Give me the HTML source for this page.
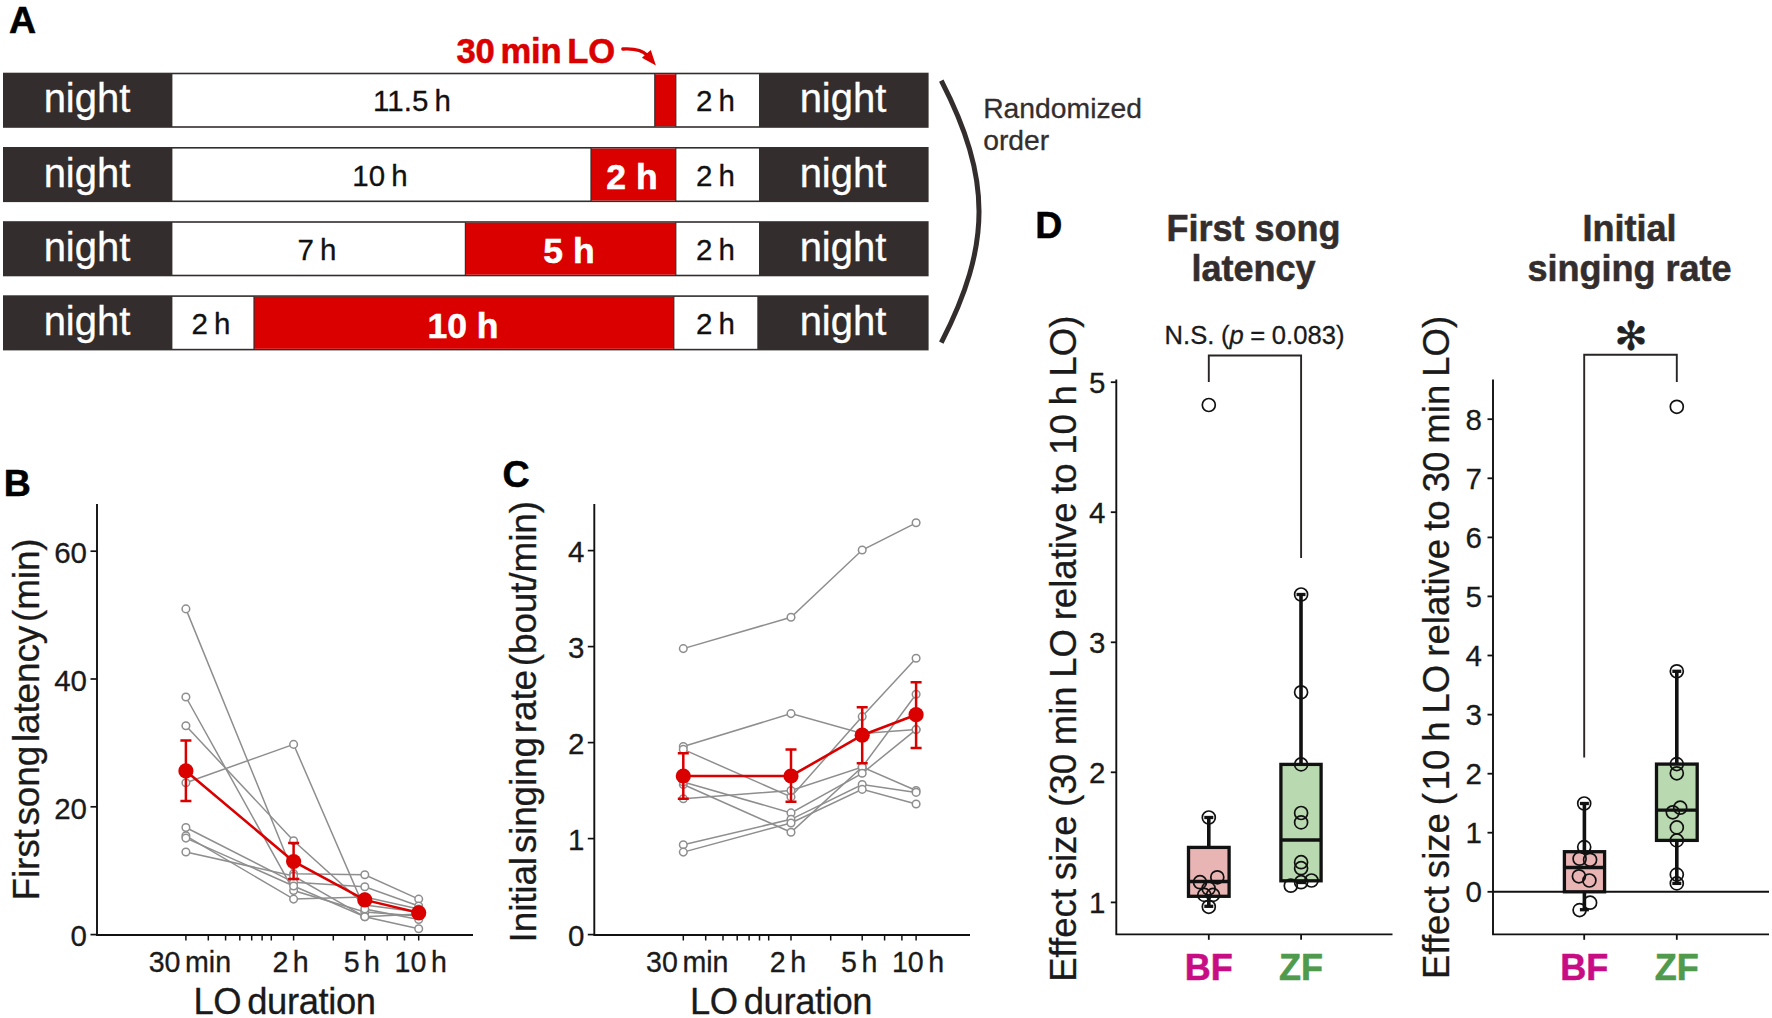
<!DOCTYPE html>
<html><head><meta charset="utf-8"><title>Figure</title>
<style>
html,body{margin:0;padding:0;background:#fff;}
body{width:1772px;height:1018px;overflow:hidden;}
svg{display:block;font-family:"Liberation Sans",sans-serif;}
.b{font-weight:bold;}
</style></head><body>
<svg width="1772" height="1018" viewBox="0 0 1772 1018">
<rect x="0" y="0" width="1772" height="1018" fill="#ffffff"/>

<text x="9" y="32.8" class="b" font-size="37.5" fill="#000" stroke="#000" stroke-width="0.55">A</text>
<rect x="3" y="72.7" width="925.6" height="55.1" fill="#332e2d"/>
<rect x="172.4" y="74.3" width="586.6" height="51.9" fill="#fff"/>
<rect x="654.8" y="74.3" width="21.0" height="51.9" fill="#da0000"/>
<line x1="654.8" y1="73.7" x2="654.8" y2="126.80000000000001" stroke="#332e2d" stroke-width="1.2"/>
<line x1="675.8" y1="73.7" x2="675.8" y2="126.80000000000001" stroke="#332e2d" stroke-width="1.2"/>
<text x="87" y="112.4" font-size="40" fill="#fff" text-anchor="middle" stroke="#fff" stroke-width="0.3">night</text>
<text x="843" y="112.4" font-size="40" fill="#fff" text-anchor="middle" stroke="#fff" stroke-width="0.3">night</text>
<text x="412" y="111.30000000000001" font-size="29.5" fill="#111" text-anchor="middle" style="word-spacing:-0.07em" stroke="#111" stroke-width="0.3">11.5 h</text>
<text x="715.5" y="111.30000000000001" font-size="29.5" fill="#111" text-anchor="middle" style="word-spacing:-0.07em" stroke="#111" stroke-width="0.3">2 h</text>
<rect x="3" y="147" width="925.6" height="55.1" fill="#332e2d"/>
<rect x="172.4" y="148.6" width="586.6" height="51.9" fill="#fff"/>
<rect x="591" y="148.6" width="84.79999999999995" height="51.9" fill="#da0000"/>
<line x1="591" y1="148" x2="591" y2="201.1" stroke="#332e2d" stroke-width="1.2"/>
<line x1="675.8" y1="148" x2="675.8" y2="201.1" stroke="#332e2d" stroke-width="1.2"/>
<text x="87" y="186.7" font-size="40" fill="#fff" text-anchor="middle" stroke="#fff" stroke-width="0.3">night</text>
<text x="843" y="186.7" font-size="40" fill="#fff" text-anchor="middle" stroke="#fff" stroke-width="0.3">night</text>
<text x="380" y="185.6" font-size="29.5" fill="#111" text-anchor="middle" style="word-spacing:-0.07em" stroke="#111" stroke-width="0.3">10 h</text>
<text x="715.5" y="185.6" font-size="29.5" fill="#111" text-anchor="middle" style="word-spacing:-0.07em" stroke="#111" stroke-width="0.3">2 h</text>
<text x="632" y="189.2" font-size="35.5" class="b" fill="#fff" text-anchor="middle" stroke="#fff" stroke-width="0.55">2 h</text>
<rect x="3" y="221.2" width="925.6" height="55.1" fill="#332e2d"/>
<rect x="172.4" y="222.79999999999998" width="586.6" height="51.9" fill="#fff"/>
<rect x="465.4" y="222.79999999999998" width="210.39999999999998" height="51.9" fill="#da0000"/>
<line x1="465.4" y1="222.2" x2="465.4" y2="275.3" stroke="#332e2d" stroke-width="1.2"/>
<line x1="675.8" y1="222.2" x2="675.8" y2="275.3" stroke="#332e2d" stroke-width="1.2"/>
<text x="87" y="260.9" font-size="40" fill="#fff" text-anchor="middle" stroke="#fff" stroke-width="0.3">night</text>
<text x="843" y="260.9" font-size="40" fill="#fff" text-anchor="middle" stroke="#fff" stroke-width="0.3">night</text>
<text x="317" y="259.8" font-size="29.5" fill="#111" text-anchor="middle" style="word-spacing:-0.07em" stroke="#111" stroke-width="0.3">7 h</text>
<text x="715.5" y="259.8" font-size="29.5" fill="#111" text-anchor="middle" style="word-spacing:-0.07em" stroke="#111" stroke-width="0.3">2 h</text>
<text x="569" y="263.4" font-size="35.5" class="b" fill="#fff" text-anchor="middle" stroke="#fff" stroke-width="0.55">5 h</text>
<rect x="3" y="295.3" width="925.6" height="55.1" fill="#332e2d"/>
<rect x="172.4" y="296.90000000000003" width="584.9" height="51.9" fill="#fff"/>
<rect x="254" y="296.90000000000003" width="419.79999999999995" height="51.9" fill="#da0000"/>
<line x1="254" y1="296.3" x2="254" y2="349.40000000000003" stroke="#332e2d" stroke-width="1.2"/>
<line x1="673.8" y1="296.3" x2="673.8" y2="349.40000000000003" stroke="#332e2d" stroke-width="1.2"/>
<text x="87" y="335.0" font-size="40" fill="#fff" text-anchor="middle" stroke="#fff" stroke-width="0.3">night</text>
<text x="843" y="335.0" font-size="40" fill="#fff" text-anchor="middle" stroke="#fff" stroke-width="0.3">night</text>
<text x="211" y="333.90000000000003" font-size="29.5" fill="#111" text-anchor="middle" style="word-spacing:-0.07em" stroke="#111" stroke-width="0.3">2 h</text>
<text x="715.5" y="333.90000000000003" font-size="29.5" fill="#111" text-anchor="middle" style="word-spacing:-0.07em" stroke="#111" stroke-width="0.3">2 h</text>
<text x="463" y="337.5" font-size="35.5" class="b" fill="#fff" text-anchor="middle" stroke="#fff" stroke-width="0.55">10 h</text>
<text x="456.5" y="62.8" font-size="34.6" class="b" fill="#da0000" style="word-spacing:-0.1em;letter-spacing:-0.2px" stroke="#da0000" stroke-width="0.55">30 min LO</text>
<path d="M622.8 49 C633 48.4 642 49.6 647.5 55.5" fill="none" stroke="#da0000" stroke-width="3.3" stroke-linecap="round"/>
<path d="M650.8 50.1 L641.9 57.7 L655.9 65.6 Z" fill="#da0000"/>
<path d="M941.3 80.6 C991.6 178.6 991.6 244.6 941.3 342.6" fill="none" stroke="#332e2d" stroke-width="5"/>
<text x="983.2" y="117.5" font-size="28.3" fill="#332e2d" stroke="#332e2d" stroke-width="0.3">Randomized</text>
<text x="983.2" y="149.5" font-size="28.3" fill="#332e2d" stroke="#332e2d" stroke-width="0.3">order</text>
<text x="3.8" y="496.2" class="b" font-size="37.5" fill="#000" stroke="#000" stroke-width="0.55">B</text>
<path d="M97 504 V935 H473" fill="none" stroke="#111" stroke-width="1.9"/>
<line x1="90.5" y1="934.6" x2="97" y2="934.6" stroke="#111" stroke-width="1.7"/>
<text x="87" y="946.4" font-size="29.5" fill="#1a1a1a" text-anchor="end" stroke="#1a1a1a" stroke-width="0.3">0</text>
<line x1="90.5" y1="806.8000000000001" x2="97" y2="806.8000000000001" stroke="#111" stroke-width="1.7"/>
<text x="87" y="818.6" font-size="29.5" fill="#1a1a1a" text-anchor="end" stroke="#1a1a1a" stroke-width="0.3">20</text>
<line x1="90.5" y1="679.0" x2="97" y2="679.0" stroke="#111" stroke-width="1.7"/>
<text x="87" y="690.8" font-size="29.5" fill="#1a1a1a" text-anchor="end" stroke="#1a1a1a" stroke-width="0.3">40</text>
<line x1="90.5" y1="551.2" x2="97" y2="551.2" stroke="#111" stroke-width="1.7"/>
<text x="87" y="563.0" font-size="29.5" fill="#1a1a1a" text-anchor="end" stroke="#1a1a1a" stroke-width="0.3">60</text>
<line x1="185.9" y1="935" x2="185.9" y2="940.5" stroke="#111" stroke-width="1.5"/>
<line x1="208.3" y1="935" x2="208.3" y2="940.5" stroke="#111" stroke-width="1.5"/>
<line x1="225.6" y1="935" x2="225.6" y2="940.5" stroke="#111" stroke-width="1.5"/>
<line x1="239.8" y1="935" x2="239.8" y2="940.5" stroke="#111" stroke-width="1.5"/>
<line x1="251.7" y1="935" x2="251.7" y2="940.5" stroke="#111" stroke-width="1.5"/>
<line x1="262.1" y1="935" x2="262.1" y2="940.5" stroke="#111" stroke-width="1.5"/>
<line x1="271.3" y1="935" x2="271.3" y2="940.5" stroke="#111" stroke-width="1.5"/>
<line x1="293.6" y1="935" x2="293.6" y2="940.5" stroke="#111" stroke-width="1.5"/>
<line x1="333.3" y1="935" x2="333.3" y2="940.5" stroke="#111" stroke-width="1.5"/>
<line x1="364.8" y1="935" x2="364.8" y2="940.5" stroke="#111" stroke-width="1.5"/>
<line x1="387.2" y1="935" x2="387.2" y2="940.5" stroke="#111" stroke-width="1.5"/>
<line x1="404.5" y1="935" x2="404.5" y2="940.5" stroke="#111" stroke-width="1.5"/>
<line x1="418.7" y1="935" x2="418.7" y2="940.5" stroke="#111" stroke-width="1.5"/>
<text x="189.9" y="972.3" font-size="28.6" fill="#1a1a1a" text-anchor="middle" style="word-spacing:-0.12em" stroke="#1a1a1a" stroke-width="0.3">30 min</text>
<text x="290.6" y="972.3" font-size="28.6" fill="#1a1a1a" text-anchor="middle" style="word-spacing:-0.12em" stroke="#1a1a1a" stroke-width="0.3">2 h</text>
<text x="361.8" y="972.3" font-size="28.6" fill="#1a1a1a" text-anchor="middle" style="word-spacing:-0.12em" stroke="#1a1a1a" stroke-width="0.3">5 h</text>
<text x="420.7" y="972.3" font-size="28.6" fill="#1a1a1a" text-anchor="middle" style="word-spacing:-0.12em" stroke="#1a1a1a" stroke-width="0.3">10 h</text>
<text x="284.5" y="1014.4" font-size="36.4" fill="#1a1a1a" text-anchor="middle" style="word-spacing:-0.1em;letter-spacing:-0.4px" stroke="#1a1a1a" stroke-width="0.3">LO duration</text>
<text transform="translate(39,719.5) rotate(-90)" font-size="37" fill="#1a1a1a" text-anchor="middle" style="word-spacing:-0.17em;letter-spacing:-0.15px" stroke="#1a1a1a" stroke-width="0.3">First song latency (min)</text>
<polyline points="185.9,608.9 293.6,873.7 364.8,874.7 418.7,899.1" fill="none" stroke="#8e8e8e" stroke-width="1.5"/>
<polyline points="185.9,697.0 293.6,890.5 364.8,912.0 418.7,916.0" fill="none" stroke="#8e8e8e" stroke-width="1.5"/>
<polyline points="185.9,725.8 293.6,840.8 364.8,905.0 418.7,912.0" fill="none" stroke="#8e8e8e" stroke-width="1.5"/>
<polyline points="185.9,782.7 293.6,744.4 364.8,909.0 418.7,919.5" fill="none" stroke="#8e8e8e" stroke-width="1.5"/>
<polyline points="185.9,827.5 293.6,882.3 364.8,886.7 418.7,906.0" fill="none" stroke="#8e8e8e" stroke-width="1.5"/>
<polyline points="185.9,835.8 293.6,899.1 364.8,897.0 418.7,909.0" fill="none" stroke="#8e8e8e" stroke-width="1.5"/>
<polyline points="185.9,838.1 293.6,886.0 364.8,916.8 418.7,914.0" fill="none" stroke="#8e8e8e" stroke-width="1.5"/>
<polyline points="185.9,852.0 293.6,876.0 364.8,916.8 418.7,928.7" fill="none" stroke="#8e8e8e" stroke-width="1.5"/>
<circle cx="185.9" cy="608.9" r="3.8" fill="#fff" stroke="#8e8e8e" stroke-width="1.5"/>
<circle cx="293.6" cy="873.7" r="3.8" fill="#fff" stroke="#8e8e8e" stroke-width="1.5"/>
<circle cx="364.8" cy="874.7" r="3.8" fill="#fff" stroke="#8e8e8e" stroke-width="1.5"/>
<circle cx="418.7" cy="899.1" r="3.8" fill="#fff" stroke="#8e8e8e" stroke-width="1.5"/>
<circle cx="185.9" cy="697.0" r="3.8" fill="#fff" stroke="#8e8e8e" stroke-width="1.5"/>
<circle cx="293.6" cy="890.5" r="3.8" fill="#fff" stroke="#8e8e8e" stroke-width="1.5"/>
<circle cx="364.8" cy="912.0" r="3.8" fill="#fff" stroke="#8e8e8e" stroke-width="1.5"/>
<circle cx="418.7" cy="916.0" r="3.8" fill="#fff" stroke="#8e8e8e" stroke-width="1.5"/>
<circle cx="185.9" cy="725.8" r="3.8" fill="#fff" stroke="#8e8e8e" stroke-width="1.5"/>
<circle cx="293.6" cy="840.8" r="3.8" fill="#fff" stroke="#8e8e8e" stroke-width="1.5"/>
<circle cx="364.8" cy="905.0" r="3.8" fill="#fff" stroke="#8e8e8e" stroke-width="1.5"/>
<circle cx="418.7" cy="912.0" r="3.8" fill="#fff" stroke="#8e8e8e" stroke-width="1.5"/>
<circle cx="185.9" cy="782.7" r="3.8" fill="#fff" stroke="#8e8e8e" stroke-width="1.5"/>
<circle cx="293.6" cy="744.4" r="3.8" fill="#fff" stroke="#8e8e8e" stroke-width="1.5"/>
<circle cx="364.8" cy="909.0" r="3.8" fill="#fff" stroke="#8e8e8e" stroke-width="1.5"/>
<circle cx="418.7" cy="919.5" r="3.8" fill="#fff" stroke="#8e8e8e" stroke-width="1.5"/>
<circle cx="185.9" cy="827.5" r="3.8" fill="#fff" stroke="#8e8e8e" stroke-width="1.5"/>
<circle cx="293.6" cy="882.3" r="3.8" fill="#fff" stroke="#8e8e8e" stroke-width="1.5"/>
<circle cx="364.8" cy="886.7" r="3.8" fill="#fff" stroke="#8e8e8e" stroke-width="1.5"/>
<circle cx="418.7" cy="906.0" r="3.8" fill="#fff" stroke="#8e8e8e" stroke-width="1.5"/>
<circle cx="185.9" cy="835.8" r="3.8" fill="#fff" stroke="#8e8e8e" stroke-width="1.5"/>
<circle cx="293.6" cy="899.1" r="3.8" fill="#fff" stroke="#8e8e8e" stroke-width="1.5"/>
<circle cx="364.8" cy="897.0" r="3.8" fill="#fff" stroke="#8e8e8e" stroke-width="1.5"/>
<circle cx="418.7" cy="909.0" r="3.8" fill="#fff" stroke="#8e8e8e" stroke-width="1.5"/>
<circle cx="185.9" cy="838.1" r="3.8" fill="#fff" stroke="#8e8e8e" stroke-width="1.5"/>
<circle cx="293.6" cy="886.0" r="3.8" fill="#fff" stroke="#8e8e8e" stroke-width="1.5"/>
<circle cx="364.8" cy="916.8" r="3.8" fill="#fff" stroke="#8e8e8e" stroke-width="1.5"/>
<circle cx="418.7" cy="914.0" r="3.8" fill="#fff" stroke="#8e8e8e" stroke-width="1.5"/>
<circle cx="185.9" cy="852.0" r="3.8" fill="#fff" stroke="#8e8e8e" stroke-width="1.5"/>
<circle cx="293.6" cy="876.0" r="3.8" fill="#fff" stroke="#8e8e8e" stroke-width="1.5"/>
<circle cx="364.8" cy="916.8" r="3.8" fill="#fff" stroke="#8e8e8e" stroke-width="1.5"/>
<circle cx="418.7" cy="928.7" r="3.8" fill="#fff" stroke="#8e8e8e" stroke-width="1.5"/>
<polyline points="185.9,770.9 293.6,861.5 364.8,899.9 418.7,912.8" fill="none" stroke="#da0000" stroke-width="2.6"/>
<path d="M180.4 740.6 H191.4 M185.9 740.6 V801 M180.4 801 H191.4" fill="none" stroke="#da0000" stroke-width="2.5"/>
<circle cx="185.9" cy="770.9" r="7.6" fill="#da0000"/>
<path d="M288.1 842.9 H299.1 M293.6 842.9 V879 M288.1 879 H299.1" fill="none" stroke="#da0000" stroke-width="2.5"/>
<circle cx="293.6" cy="861.5" r="7.6" fill="#da0000"/>
<circle cx="364.8" cy="899.9" r="7.6" fill="#da0000"/>
<circle cx="418.7" cy="912.8" r="7.6" fill="#da0000"/>
<text x="502.5" y="487.2" class="b" font-size="37.5" fill="#000" stroke="#000" stroke-width="0.55">C</text>
<path d="M594.3 504 V935 H970" fill="none" stroke="#111" stroke-width="1.9"/>
<line x1="587.8" y1="934.6" x2="594.3" y2="934.6" stroke="#111" stroke-width="1.7"/>
<text x="584.3" y="946.4" font-size="29.5" fill="#1a1a1a" text-anchor="end" stroke="#1a1a1a" stroke-width="0.3">0</text>
<line x1="587.8" y1="838.6" x2="594.3" y2="838.6" stroke="#111" stroke-width="1.7"/>
<text x="584.3" y="850.4" font-size="29.5" fill="#1a1a1a" text-anchor="end" stroke="#1a1a1a" stroke-width="0.3">1</text>
<line x1="587.8" y1="742.6" x2="594.3" y2="742.6" stroke="#111" stroke-width="1.7"/>
<text x="584.3" y="754.4" font-size="29.5" fill="#1a1a1a" text-anchor="end" stroke="#1a1a1a" stroke-width="0.3">2</text>
<line x1="587.8" y1="646.6" x2="594.3" y2="646.6" stroke="#111" stroke-width="1.7"/>
<text x="584.3" y="658.4" font-size="29.5" fill="#1a1a1a" text-anchor="end" stroke="#1a1a1a" stroke-width="0.3">3</text>
<line x1="587.8" y1="550.6" x2="594.3" y2="550.6" stroke="#111" stroke-width="1.7"/>
<text x="584.3" y="562.4" font-size="29.5" fill="#1a1a1a" text-anchor="end" stroke="#1a1a1a" stroke-width="0.3">4</text>
<line x1="683.3" y1="935" x2="683.3" y2="940.5" stroke="#111" stroke-width="1.5"/>
<line x1="705.7" y1="935" x2="705.7" y2="940.5" stroke="#111" stroke-width="1.5"/>
<line x1="723.0" y1="935" x2="723.0" y2="940.5" stroke="#111" stroke-width="1.5"/>
<line x1="737.2" y1="935" x2="737.2" y2="940.5" stroke="#111" stroke-width="1.5"/>
<line x1="749.1" y1="935" x2="749.1" y2="940.5" stroke="#111" stroke-width="1.5"/>
<line x1="759.5" y1="935" x2="759.5" y2="940.5" stroke="#111" stroke-width="1.5"/>
<line x1="768.7" y1="935" x2="768.7" y2="940.5" stroke="#111" stroke-width="1.5"/>
<line x1="791.0" y1="935" x2="791.0" y2="940.5" stroke="#111" stroke-width="1.5"/>
<line x1="830.7" y1="935" x2="830.7" y2="940.5" stroke="#111" stroke-width="1.5"/>
<line x1="862.2" y1="935" x2="862.2" y2="940.5" stroke="#111" stroke-width="1.5"/>
<line x1="884.6" y1="935" x2="884.6" y2="940.5" stroke="#111" stroke-width="1.5"/>
<line x1="901.9" y1="935" x2="901.9" y2="940.5" stroke="#111" stroke-width="1.5"/>
<line x1="916.1" y1="935" x2="916.1" y2="940.5" stroke="#111" stroke-width="1.5"/>
<text x="687.3" y="972.3" font-size="28.6" fill="#1a1a1a" text-anchor="middle" style="word-spacing:-0.12em" stroke="#1a1a1a" stroke-width="0.3">30 min</text>
<text x="788.0" y="972.3" font-size="28.6" fill="#1a1a1a" text-anchor="middle" style="word-spacing:-0.12em" stroke="#1a1a1a" stroke-width="0.3">2 h</text>
<text x="859.2" y="972.3" font-size="28.6" fill="#1a1a1a" text-anchor="middle" style="word-spacing:-0.12em" stroke="#1a1a1a" stroke-width="0.3">5 h</text>
<text x="918.1" y="972.3" font-size="28.6" fill="#1a1a1a" text-anchor="middle" style="word-spacing:-0.12em" stroke="#1a1a1a" stroke-width="0.3">10 h</text>
<text x="781" y="1014.4" font-size="36.4" fill="#1a1a1a" text-anchor="middle" style="word-spacing:-0.1em;letter-spacing:-0.4px" stroke="#1a1a1a" stroke-width="0.3">LO duration</text>
<text transform="translate(536.3,721.8) rotate(-90)" font-size="37" fill="#1a1a1a" text-anchor="middle" style="word-spacing:-0.17em;letter-spacing:-0.15px" stroke="#1a1a1a" stroke-width="0.3">Initial singing rate (bout/min)</text>
<polyline points="683.3,648.6 791.0,617.3 862.2,550.0 916.1,522.8" fill="none" stroke="#8e8e8e" stroke-width="1.5"/>
<polyline points="683.3,746.5 791.0,713.6 862.2,733.4 916.1,729.6" fill="none" stroke="#8e8e8e" stroke-width="1.5"/>
<polyline points="683.3,749.4 791.0,796.9 862.2,716.6 916.1,658.3" fill="none" stroke="#8e8e8e" stroke-width="1.5"/>
<polyline points="683.3,784.5 791.0,832.3 862.2,767.0 916.1,694.2" fill="none" stroke="#8e8e8e" stroke-width="1.5"/>
<polyline points="683.3,798.7 791.0,790.5 862.2,767.0 916.1,790.5" fill="none" stroke="#8e8e8e" stroke-width="1.5"/>
<polyline points="683.3,782.0 791.0,812.9 862.2,773.3 916.1,729.6" fill="none" stroke="#8e8e8e" stroke-width="1.5"/>
<polyline points="683.3,844.7 791.0,819.3 862.2,784.5 916.1,792.4" fill="none" stroke="#8e8e8e" stroke-width="1.5"/>
<polyline points="683.3,852.1 791.0,823.0 862.2,789.4 916.1,804.0" fill="none" stroke="#8e8e8e" stroke-width="1.5"/>
<circle cx="683.3" cy="648.6" r="3.8" fill="#fff" stroke="#8e8e8e" stroke-width="1.5"/>
<circle cx="791.0" cy="617.3" r="3.8" fill="#fff" stroke="#8e8e8e" stroke-width="1.5"/>
<circle cx="862.2" cy="550.0" r="3.8" fill="#fff" stroke="#8e8e8e" stroke-width="1.5"/>
<circle cx="916.1" cy="522.8" r="3.8" fill="#fff" stroke="#8e8e8e" stroke-width="1.5"/>
<circle cx="683.3" cy="746.5" r="3.8" fill="#fff" stroke="#8e8e8e" stroke-width="1.5"/>
<circle cx="791.0" cy="713.6" r="3.8" fill="#fff" stroke="#8e8e8e" stroke-width="1.5"/>
<circle cx="862.2" cy="733.4" r="3.8" fill="#fff" stroke="#8e8e8e" stroke-width="1.5"/>
<circle cx="916.1" cy="729.6" r="3.8" fill="#fff" stroke="#8e8e8e" stroke-width="1.5"/>
<circle cx="683.3" cy="749.4" r="3.8" fill="#fff" stroke="#8e8e8e" stroke-width="1.5"/>
<circle cx="791.0" cy="796.9" r="3.8" fill="#fff" stroke="#8e8e8e" stroke-width="1.5"/>
<circle cx="862.2" cy="716.6" r="3.8" fill="#fff" stroke="#8e8e8e" stroke-width="1.5"/>
<circle cx="916.1" cy="658.3" r="3.8" fill="#fff" stroke="#8e8e8e" stroke-width="1.5"/>
<circle cx="683.3" cy="784.5" r="3.8" fill="#fff" stroke="#8e8e8e" stroke-width="1.5"/>
<circle cx="791.0" cy="832.3" r="3.8" fill="#fff" stroke="#8e8e8e" stroke-width="1.5"/>
<circle cx="862.2" cy="767.0" r="3.8" fill="#fff" stroke="#8e8e8e" stroke-width="1.5"/>
<circle cx="916.1" cy="694.2" r="3.8" fill="#fff" stroke="#8e8e8e" stroke-width="1.5"/>
<circle cx="683.3" cy="798.7" r="3.8" fill="#fff" stroke="#8e8e8e" stroke-width="1.5"/>
<circle cx="791.0" cy="790.5" r="3.8" fill="#fff" stroke="#8e8e8e" stroke-width="1.5"/>
<circle cx="862.2" cy="767.0" r="3.8" fill="#fff" stroke="#8e8e8e" stroke-width="1.5"/>
<circle cx="916.1" cy="790.5" r="3.8" fill="#fff" stroke="#8e8e8e" stroke-width="1.5"/>
<circle cx="683.3" cy="782.0" r="3.8" fill="#fff" stroke="#8e8e8e" stroke-width="1.5"/>
<circle cx="791.0" cy="812.9" r="3.8" fill="#fff" stroke="#8e8e8e" stroke-width="1.5"/>
<circle cx="862.2" cy="773.3" r="3.8" fill="#fff" stroke="#8e8e8e" stroke-width="1.5"/>
<circle cx="916.1" cy="729.6" r="3.8" fill="#fff" stroke="#8e8e8e" stroke-width="1.5"/>
<circle cx="683.3" cy="844.7" r="3.8" fill="#fff" stroke="#8e8e8e" stroke-width="1.5"/>
<circle cx="791.0" cy="819.3" r="3.8" fill="#fff" stroke="#8e8e8e" stroke-width="1.5"/>
<circle cx="862.2" cy="784.5" r="3.8" fill="#fff" stroke="#8e8e8e" stroke-width="1.5"/>
<circle cx="916.1" cy="792.4" r="3.8" fill="#fff" stroke="#8e8e8e" stroke-width="1.5"/>
<circle cx="683.3" cy="852.1" r="3.8" fill="#fff" stroke="#8e8e8e" stroke-width="1.5"/>
<circle cx="791.0" cy="823.0" r="3.8" fill="#fff" stroke="#8e8e8e" stroke-width="1.5"/>
<circle cx="862.2" cy="789.4" r="3.8" fill="#fff" stroke="#8e8e8e" stroke-width="1.5"/>
<circle cx="916.1" cy="804.0" r="3.8" fill="#fff" stroke="#8e8e8e" stroke-width="1.5"/>
<polyline points="683.3,776.0 791.0,776.0 862.2,735.2 916.1,714.7" fill="none" stroke="#da0000" stroke-width="2.6"/>
<path d="M677.8 753.2 H688.8 M683.3 753.2 V798.7 M677.8 798.7 H688.8" fill="none" stroke="#da0000" stroke-width="2.5"/>
<circle cx="683.3" cy="776.0" r="7.6" fill="#da0000"/>
<path d="M785.5 749.4 H796.5 M791.0 749.4 V801.7 M785.5 801.7 H796.5" fill="none" stroke="#da0000" stroke-width="2.5"/>
<circle cx="791.0" cy="776.0" r="7.6" fill="#da0000"/>
<path d="M856.7 707.2 H867.7 M862.2 707.2 V763.3 M856.7 763.3 H867.7" fill="none" stroke="#da0000" stroke-width="2.5"/>
<circle cx="862.2" cy="735.2" r="7.6" fill="#da0000"/>
<path d="M910.6 682.2 H921.6 M916.1 682.2 V748 M910.6 748 H921.6" fill="none" stroke="#da0000" stroke-width="2.5"/>
<circle cx="916.1" cy="714.7" r="7.6" fill="#da0000"/>
<text x="1035.3" y="238.3" class="b" font-size="37.5" fill="#000" stroke="#000" stroke-width="0.55">D</text>
<text x="1253.5" y="241.2" class="b" font-size="36" fill="#332e2d" text-anchor="middle" stroke="#332e2d" stroke-width="0.55">First song</text>
<text x="1253.5" y="281.4" class="b" font-size="36" fill="#332e2d" text-anchor="middle" stroke="#332e2d" stroke-width="0.55">latency</text>
<text x="1629.5" y="241.2" class="b" font-size="36" fill="#332e2d" text-anchor="middle" stroke="#332e2d" stroke-width="0.55">Initial</text>
<text x="1629.5" y="281.4" class="b" font-size="36" fill="#332e2d" text-anchor="middle" stroke="#332e2d" stroke-width="0.55">singing rate</text>
<text x="1254.5" y="344.3" font-size="25.6" fill="#1a1a1a" text-anchor="middle" style="word-spacing:-0.02em" stroke="#1a1a1a" stroke-width="0.3">N.S. (<tspan font-style="italic">p</tspan> = 0.083)</text>
<text x="1630.9" y="350.2" font-size="40" fill="#222" text-anchor="middle" font-family="DejaVu Sans, sans-serif" stroke="#222" stroke-width="0.3">✻</text>
<path d="M1116.3 379.5 V934.4 H1392.5" fill="none" stroke="#111" stroke-width="1.9"/>
<line x1="1110.8" y1="902.4" x2="1116.3" y2="902.4" stroke="#111" stroke-width="1.8"/>
<text x="1105.3" y="913.0" font-size="29.5" fill="#1a1a1a" text-anchor="end" stroke="#1a1a1a" stroke-width="0.3">1</text>
<line x1="1110.8" y1="772.3" x2="1116.3" y2="772.3" stroke="#111" stroke-width="1.8"/>
<text x="1105.3" y="782.9" font-size="29.5" fill="#1a1a1a" text-anchor="end" stroke="#1a1a1a" stroke-width="0.3">2</text>
<line x1="1110.8" y1="642.3" x2="1116.3" y2="642.3" stroke="#111" stroke-width="1.8"/>
<text x="1105.3" y="652.9" font-size="29.5" fill="#1a1a1a" text-anchor="end" stroke="#1a1a1a" stroke-width="0.3">3</text>
<line x1="1110.8" y1="512.2" x2="1116.3" y2="512.2" stroke="#111" stroke-width="1.8"/>
<text x="1105.3" y="522.9" font-size="29.5" fill="#1a1a1a" text-anchor="end" stroke="#1a1a1a" stroke-width="0.3">4</text>
<line x1="1110.8" y1="382.2" x2="1116.3" y2="382.2" stroke="#111" stroke-width="1.8"/>
<text x="1105.3" y="392.8" font-size="29.5" fill="#1a1a1a" text-anchor="end" stroke="#1a1a1a" stroke-width="0.3">5</text>
<line x1="1208.8" y1="934.4" x2="1208.8" y2="939.8" stroke="#111" stroke-width="1.8"/>
<line x1="1301.1" y1="934.4" x2="1301.1" y2="939.8" stroke="#111" stroke-width="1.8"/>
<path d="M1208.8 382 V355.5 H1301.1 V558" fill="none" stroke="#2a2525" stroke-width="1.9"/>
<line x1="1208.8" y1="817.5" x2="1208.8" y2="847.4" stroke="#111" stroke-width="3.6"/>
<line x1="1208.8" y1="896.3" x2="1208.8" y2="906.3" stroke="#111" stroke-width="3.6"/>
<line x1="1204.3" y1="817.5" x2="1213.3" y2="817.5" stroke="#111" stroke-width="3.3"/>
<line x1="1204.3" y1="906.3" x2="1213.3" y2="906.3" stroke="#111" stroke-width="3.3"/>
<rect x="1188.5" y="847.4" width="40.59999999999991" height="48.89999999999998" fill="#e8b4b4" stroke="#111" stroke-width="3.3"/>
<line x1="1188.5" y1="881.5" x2="1229.1" y2="881.5" stroke="#111" stroke-width="3.3"/>
<line x1="1301" y1="594.5" x2="1301" y2="764.4" stroke="#111" stroke-width="3.6"/>
<line x1="1301" y1="880.8" x2="1301" y2="882.5" stroke="#111" stroke-width="3.6"/>
<line x1="1296.5" y1="594.5" x2="1305.5" y2="594.5" stroke="#111" stroke-width="3.3"/>
<line x1="1296.5" y1="882.5" x2="1305.5" y2="882.5" stroke="#111" stroke-width="3.3"/>
<rect x="1280.9" y="764.4" width="40.19999999999982" height="116.39999999999998" fill="#b9d9b0" stroke="#111" stroke-width="3.3"/>
<line x1="1280.9" y1="840" x2="1321.1" y2="840" stroke="#111" stroke-width="3.3"/>
<circle cx="1208.8" cy="405" r="6.5" fill="none" stroke="#111" stroke-width="1.7"/>
<circle cx="1208.8" cy="817.5" r="6.5" fill="none" stroke="#111" stroke-width="1.7"/>
<circle cx="1200" cy="882.2" r="6.5" fill="none" stroke="#111" stroke-width="1.7"/>
<circle cx="1217.3" cy="877.3" r="6.5" fill="none" stroke="#111" stroke-width="1.7"/>
<circle cx="1204.3" cy="894.9" r="6.5" fill="none" stroke="#111" stroke-width="1.7"/>
<circle cx="1213" cy="894.9" r="6.5" fill="none" stroke="#111" stroke-width="1.7"/>
<circle cx="1208.8" cy="906.8" r="6.5" fill="none" stroke="#111" stroke-width="1.7"/>
<circle cx="1208.6" cy="888.5" r="6.5" fill="none" stroke="#111" stroke-width="1.7"/>
<circle cx="1301.1" cy="594.5" r="6.5" fill="none" stroke="#111" stroke-width="1.7"/>
<circle cx="1301.1" cy="692.3" r="6.5" fill="none" stroke="#111" stroke-width="1.7"/>
<circle cx="1301.1" cy="764.4" r="6.5" fill="none" stroke="#111" stroke-width="1.7"/>
<circle cx="1301.1" cy="813" r="6.5" fill="none" stroke="#111" stroke-width="1.7"/>
<circle cx="1301.1" cy="822.4" r="6.5" fill="none" stroke="#111" stroke-width="1.7"/>
<circle cx="1301.1" cy="862.2" r="6.5" fill="none" stroke="#111" stroke-width="1.7"/>
<circle cx="1301.1" cy="868.2" r="6.5" fill="none" stroke="#111" stroke-width="1.7"/>
<circle cx="1290.8" cy="885.7" r="6.5" fill="none" stroke="#111" stroke-width="1.7"/>
<circle cx="1301.1" cy="882.2" r="6.5" fill="none" stroke="#111" stroke-width="1.7"/>
<circle cx="1311.5" cy="880.5" r="6.5" fill="none" stroke="#111" stroke-width="1.7"/>
<text x="1208.8" y="979.5" class="b" font-size="36" fill="#c80c84" text-anchor="middle" stroke="#c80c84" stroke-width="0.55">BF</text>
<text x="1301.1" y="979.5" class="b" font-size="36" fill="#4f9a4c" text-anchor="middle" stroke="#4f9a4c" stroke-width="0.55">ZF</text>
<text transform="translate(1076,648.7) rotate(-90)" font-size="36.6" fill="#1a1a1a" text-anchor="middle" style="word-spacing:-0.043em" stroke="#1a1a1a" stroke-width="0.3">Effect size (30 min LO relative to 10 h LO)</text>
<path d="M1493 379.5 V934.4 H1769" fill="none" stroke="#111" stroke-width="1.9"/>
<line x1="1493" y1="891.8" x2="1769" y2="891.8" stroke="#111" stroke-width="1.9"/>
<line x1="1487.5" y1="891.8" x2="1493" y2="891.8" stroke="#111" stroke-width="1.8"/>
<text x="1482" y="902.4" font-size="29.5" fill="#1a1a1a" text-anchor="end" stroke="#1a1a1a" stroke-width="0.3">0</text>
<line x1="1487.5" y1="832.7" x2="1493" y2="832.7" stroke="#111" stroke-width="1.8"/>
<text x="1482" y="843.3" font-size="29.5" fill="#1a1a1a" text-anchor="end" stroke="#1a1a1a" stroke-width="0.3">1</text>
<line x1="1487.5" y1="773.7" x2="1493" y2="773.7" stroke="#111" stroke-width="1.8"/>
<text x="1482" y="784.3" font-size="29.5" fill="#1a1a1a" text-anchor="end" stroke="#1a1a1a" stroke-width="0.3">2</text>
<line x1="1487.5" y1="714.6" x2="1493" y2="714.6" stroke="#111" stroke-width="1.8"/>
<text x="1482" y="725.2" font-size="29.5" fill="#1a1a1a" text-anchor="end" stroke="#1a1a1a" stroke-width="0.3">3</text>
<line x1="1487.5" y1="655.5" x2="1493" y2="655.5" stroke="#111" stroke-width="1.8"/>
<text x="1482" y="666.1" font-size="29.5" fill="#1a1a1a" text-anchor="end" stroke="#1a1a1a" stroke-width="0.3">4</text>
<line x1="1487.5" y1="596.4" x2="1493" y2="596.4" stroke="#111" stroke-width="1.8"/>
<text x="1482" y="607.0" font-size="29.5" fill="#1a1a1a" text-anchor="end" stroke="#1a1a1a" stroke-width="0.3">5</text>
<line x1="1487.5" y1="537.4" x2="1493" y2="537.4" stroke="#111" stroke-width="1.8"/>
<text x="1482" y="548.0" font-size="29.5" fill="#1a1a1a" text-anchor="end" stroke="#1a1a1a" stroke-width="0.3">6</text>
<line x1="1487.5" y1="478.3" x2="1493" y2="478.3" stroke="#111" stroke-width="1.8"/>
<text x="1482" y="488.9" font-size="29.5" fill="#1a1a1a" text-anchor="end" stroke="#1a1a1a" stroke-width="0.3">7</text>
<line x1="1487.5" y1="419.2" x2="1493" y2="419.2" stroke="#111" stroke-width="1.8"/>
<text x="1482" y="429.8" font-size="29.5" fill="#1a1a1a" text-anchor="end" stroke="#1a1a1a" stroke-width="0.3">8</text>
<line x1="1584.2" y1="934.4" x2="1584.2" y2="939.8" stroke="#111" stroke-width="1.8"/>
<line x1="1676.8" y1="934.4" x2="1676.8" y2="939.8" stroke="#111" stroke-width="1.8"/>
<path d="M1584.2 757.4 V354.8 H1676.8 V382" fill="none" stroke="#2a2525" stroke-width="1.9"/>
<line x1="1584.4" y1="803.5" x2="1584.4" y2="851.7" stroke="#111" stroke-width="3.6"/>
<line x1="1584.4" y1="891.8" x2="1584.4" y2="909.7" stroke="#111" stroke-width="3.6"/>
<line x1="1579.9" y1="803.5" x2="1588.9" y2="803.5" stroke="#111" stroke-width="3.3"/>
<line x1="1579.9" y1="909.7" x2="1588.9" y2="909.7" stroke="#111" stroke-width="3.3"/>
<rect x="1564.4" y="851.7" width="40.19999999999982" height="40.09999999999991" fill="#e8b4b4" stroke="#111" stroke-width="3.3"/>
<line x1="1564.4" y1="867.5" x2="1604.6" y2="867.5" stroke="#111" stroke-width="3.3"/>
<line x1="1676.8" y1="671.3" x2="1676.8" y2="764.1" stroke="#111" stroke-width="3.6"/>
<line x1="1676.8" y1="840.4" x2="1676.8" y2="883.4" stroke="#111" stroke-width="3.6"/>
<line x1="1672.3" y1="671.3" x2="1681.3" y2="671.3" stroke="#111" stroke-width="3.3"/>
<line x1="1672.3" y1="883.4" x2="1681.3" y2="883.4" stroke="#111" stroke-width="3.3"/>
<rect x="1656.5" y="764.1" width="40.700000000000045" height="76.29999999999995" fill="#b9d9b0" stroke="#111" stroke-width="3.3"/>
<line x1="1656.5" y1="810.2" x2="1697.2" y2="810.2" stroke="#111" stroke-width="3.3"/>
<circle cx="1584.2" cy="803.5" r="6.5" fill="none" stroke="#111" stroke-width="1.7"/>
<circle cx="1584.2" cy="847.1" r="6.5" fill="none" stroke="#111" stroke-width="1.7"/>
<circle cx="1579.6" cy="858.7" r="6.5" fill="none" stroke="#111" stroke-width="1.7"/>
<circle cx="1590.1" cy="859.8" r="6.5" fill="none" stroke="#111" stroke-width="1.7"/>
<circle cx="1578.9" cy="876.3" r="6.5" fill="none" stroke="#111" stroke-width="1.7"/>
<circle cx="1589.4" cy="880.5" r="6.5" fill="none" stroke="#111" stroke-width="1.7"/>
<circle cx="1590.1" cy="902.7" r="6.5" fill="none" stroke="#111" stroke-width="1.7"/>
<circle cx="1579.6" cy="910.1" r="6.5" fill="none" stroke="#111" stroke-width="1.7"/>
<circle cx="1676.8" cy="406.8" r="6.5" fill="none" stroke="#111" stroke-width="1.7"/>
<circle cx="1676.8" cy="671.3" r="6.5" fill="none" stroke="#111" stroke-width="1.7"/>
<circle cx="1676.8" cy="764.1" r="6.5" fill="none" stroke="#111" stroke-width="1.7"/>
<circle cx="1676.8" cy="773.3" r="6.5" fill="none" stroke="#111" stroke-width="1.7"/>
<circle cx="1680.2" cy="807.7" r="6.5" fill="none" stroke="#111" stroke-width="1.7"/>
<circle cx="1672.8" cy="812.3" r="6.5" fill="none" stroke="#111" stroke-width="1.7"/>
<circle cx="1676.8" cy="827.4" r="6.5" fill="none" stroke="#111" stroke-width="1.7"/>
<circle cx="1676.8" cy="840.4" r="6.5" fill="none" stroke="#111" stroke-width="1.7"/>
<circle cx="1676.8" cy="874.6" r="6.5" fill="none" stroke="#111" stroke-width="1.7"/>
<circle cx="1676.8" cy="883.4" r="6.5" fill="none" stroke="#111" stroke-width="1.7"/>
<text x="1584.2" y="979.5" class="b" font-size="36" fill="#c80c84" text-anchor="middle" stroke="#c80c84" stroke-width="0.55">BF</text>
<text x="1676.8" y="979.5" class="b" font-size="36" fill="#4f9a4c" text-anchor="middle" stroke="#4f9a4c" stroke-width="0.55">ZF</text>
<text transform="translate(1448.5,647.4) rotate(-90)" font-size="36.6" fill="#1a1a1a" text-anchor="middle" style="word-spacing:-0.060em" stroke="#1a1a1a" stroke-width="0.3">Effect size (<tspan dx="2.5">10</tspan> h LO relative to 30 min LO)</text>
</svg></body></html>
